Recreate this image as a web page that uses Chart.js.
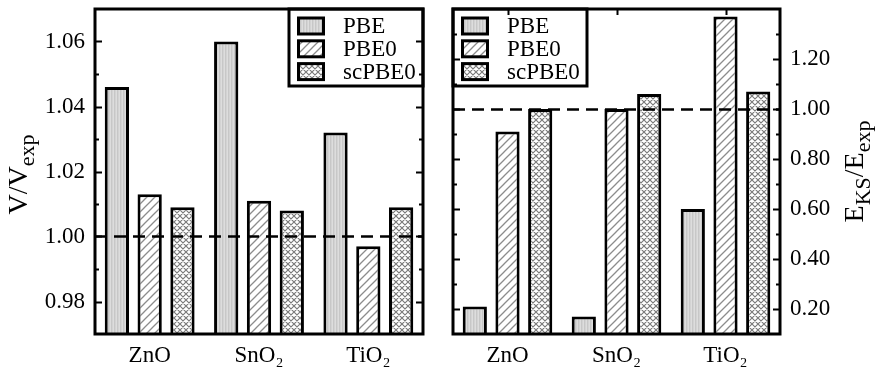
<!DOCTYPE html>
<html><head><meta charset="utf-8">
<script src="https://cdn.jsdelivr.net/npm/chart.js@4.4.1/dist/chart.umd.min.js"></script>
<style>
html,body{margin:0;padding:0;background:#fff;}
.wrap{position:absolute;top:0;height:367px;}
</style>
</head><body>
<div class="wrap" style="left:0;width:440px"><canvas id="c1" width="440" height="367"></canvas></div>
<div class="wrap" style="left:440px;width:438px"><canvas id="c2" width="438" height="367"></canvas></div>
<script>
// ---- data ----
const categories = ['ZnO', 'SnO\u2082', 'TiO\u2082'];
const seriesNames = ['PBE', 'PBE0', 'scPBE0'];
const volPBE = [1.046, 1.060, 1.032];
const volPBE0 = [1.013, 1.011, 0.997];
const volScPBE0 = [1.009, 1.008, 1.009];
const gapPBE = [0.21, 0.17, 0.60];
const gapPBE0 = [0.91, 1.00, 1.37];
const gapScPBE0 = [1.00, 1.06, 1.07];
const volTicks = [0.98, 1.00, 1.02, 1.04, 1.06];
const volMinorTicks = [0.99, 1.01, 1.03, 1.05];
const gapTicks = [0.20, 0.40, 0.60, 0.80, 1.00, 1.20];
const gapMinorTicks = [0.30, 0.50, 0.70, 0.90, 1.10, 1.30];
const referenceValue = 1.00;

const FONT = "'Liberation Serif', 'Times New Roman', serif";

function makePattern(kind) {
  const c = document.createElement('canvas');
  const g = c.getContext('2d');
  if (kind === 'pbe') {
    c.width = 3; c.height = 3;
    g.fillStyle = '#d3d3d3'; g.fillRect(0, 0, 3, 3);
    g.fillStyle = '#c7c7c7'; g.fillRect(0, 0, 1, 3);
    g.fillStyle = '#dddddd'; g.fillRect(2, 0, 1, 3);
  } else if (kind === 'hatch') {
    const s = 8; c.width = s; c.height = s;
    g.fillStyle = '#fff'; g.fillRect(0, 0, s, s);
    g.strokeStyle = '#8c8c8c'; g.lineWidth = 1.3;
    g.beginPath();
    g.moveTo(-1, s + 1); g.lineTo(s + 1, -1);
    g.moveTo(-1, 1); g.lineTo(1, -1);
    g.moveTo(s - 1, s + 1); g.lineTo(s + 1, s - 1);
    g.stroke();
  } else {
    const s = 6; c.width = s; c.height = s;
    g.fillStyle = '#fff'; g.fillRect(0, 0, s, s);
    g.strokeStyle = '#7a7a7a'; g.lineWidth = 1.15;
    g.beginPath();
    g.moveTo(-1, s + 1); g.lineTo(s + 1, -1);
    g.moveTo(-1, 1); g.lineTo(1, -1);
    g.moveTo(s - 1, s + 1); g.lineTo(s + 1, s - 1);
    g.moveTo(-1, -1); g.lineTo(s + 1, s + 1);
    g.moveTo(s - 1, -1); g.lineTo(s + 1, 1);
    g.moveTo(-1, s - 1); g.lineTo(1, s + 1);
    g.stroke();
  }
  return g.createPattern(c, 'repeat');
}
const fills = [makePattern('pbe'), makePattern('hatch'), makePattern('cross')];

function datasets(arrs) {
  return arrs.map((d, i) => ({
    label: seriesNames[i], data: d, backgroundColor: fills[i],
    borderColor: '#000', borderWidth: 3, borderSkipped: 'start'
  }));
}

function decorPlugin(cfg) {
  return {
    id: 'decor',
    afterDatasetsDraw(chart) {
      const ctx = chart.ctx, a = chart.chartArea, y = chart.scales.y, x = chart.scales.x;
      ctx.save();
      // dashed reference line
      ctx.strokeStyle = '#000'; ctx.lineWidth = 2.5; ctx.setLineDash([12, 7]);
      const yr = Math.round(y.getPixelForValue(referenceValue)) + 0.5;
      ctx.beginPath(); ctx.moveTo(a.left, yr); ctx.lineTo(a.right, yr); ctx.stroke();
      ctx.setLineDash([]);
      // legend
      const lw = 134, lh = 77;
      const lx = cfg.legendSide === 'right' ? a.right - lw : a.left;
      const ly = a.top;
      ctx.fillStyle = '#fff'; ctx.fillRect(lx, ly, lw, lh);
      ctx.lineWidth = 3; ctx.strokeStyle = '#000';
      ctx.strokeRect(lx, ly, lw, lh);
      ctx.font = '23px ' + FONT; ctx.textBaseline = 'middle'; ctx.textAlign = 'left';
      seriesNames.forEach((n, i) => {
        const cy = ly + 17 + i * 22.8;
        const sx = lx + 8, sw = 28, sh = 19;
        ctx.fillStyle = '#000'; ctx.fillRect(sx, cy - sh / 2, sw, sh);
        ctx.fillStyle = fills[i]; ctx.fillRect(sx + 3, cy - sh / 2 + 3, sw - 6, sh - 6);
        ctx.fillStyle = '#000'; ctx.fillText(n, lx + 54, cy + 1);
      });
      // frame
      ctx.lineWidth = 3; ctx.strokeStyle = '#000';
      ctx.strokeRect(a.left, a.top, a.right - a.left, a.bottom - a.top);
      // inward ticks
      ctx.lineWidth = 2;
      const tick = (v, len) => {
        const p = Math.round(y.getPixelForValue(v)) + 0.5;
        ctx.beginPath();
        ctx.moveTo(a.left, p); ctx.lineTo(a.left + len, p);
        ctx.moveTo(a.right, p); ctx.lineTo(a.right - len, p);
        ctx.stroke();
      };
      cfg.major.forEach(v => tick(v, 7));
      cfg.minor.forEach(v => tick(v, 4));
      if (cfg.topTicks) {
        categories.forEach((c, i) => {
          const px = Math.round(x.getPixelForValue(i)) + 0.5;
          ctx.beginPath(); ctx.moveTo(px, a.top); ctx.lineTo(px, a.top + 6); ctx.stroke();
        });
      }
      ctx.restore();
    },
    afterDraw(chart) {
      const ctx = chart.ctx, a = chart.chartArea;
      ctx.save();
      ctx.fillStyle = '#000';
      ctx.textBaseline = 'alphabetic'; ctx.textAlign = 'left';
      ctx.translate(cfg.titleX, (a.top + a.bottom) / 2 + cfg.titleDy);
      ctx.rotate(-Math.PI / 2);
      const parts = cfg.title;
      const fnt = p => (p.sub ? '22px ' : '28px ') + FONT;
      let total = 0;
      parts.forEach(p => { ctx.font = fnt(p); p.w = ctx.measureText(p.t).width; total += p.w; });
      let xx = -total / 2;
      parts.forEach(p => {
        ctx.font = fnt(p);
        ctx.fillText(p.t, xx, p.sub ? 7 : 0);
        xx += p.w;
      });
      ctx.restore();
    }
  };
}

function makeChart(id, arrs, yopts, cfg) {
  return new Chart(document.getElementById(id), {
    type: 'bar',
    data: { labels: categories, datasets: datasets(arrs) },
    options: {
      responsive: false, animation: false,
      layout: { padding: cfg.padding },
      plugins: { legend: { display: false }, tooltip: { enabled: false } },
      datasets: { bar: { categoryPercentage: 0.9, barPercentage: 0.74 } },
      scales: {
        x: {
          grid: { display: false }, border: { display: false },
          ticks: { color: '#000', font: { family: FONT, size: 23 }, padding: 0 },
          afterFit(s) { s.height = 33; s.paddingLeft = 0; s.paddingRight = 0; }
        },
        y: Object.assign({
          grid: { display: false }, border: { display: false },
          ticks: { color: '#000', font: { family: FONT, size: 23 }, padding: 2,
                   callback: v => Number(v).toFixed(2) },
          afterBuildTicks(ax) { ax.ticks = cfg.major.map(v => ({ value: v })); },
          afterFit(s) { s.width = cfg.yWidth; s.paddingTop = 0; s.paddingBottom = 0; }
        }, yopts)
      }
    },
    plugins: [decorPlugin(cfg)]
  });
}

makeChart('c1', [volPBE, volPBE0, volScPBE0], { min: 0.97, max: 1.07, position: 'left' }, {
  padding: { left: 0, right: 17, top: 9, bottom: 0 }, yWidth: 95,
  major: volTicks, minor: volMinorTicks, legendSide: 'right', topTicks: false,
  titleX: 27, titleDy: 3,
  title: [{ t: 'V/V' }, { t: 'exp', sub: true }]
});

makeChart('c2', [gapPBE, gapPBE0, gapScPBE0], { min: 0.10, max: 1.40, position: 'right' }, {
  padding: { left: 13, right: 0, top: 9, bottom: 0 }, yWidth: 98,
  major: gapTicks, minor: gapMinorTicks, legendSide: 'left', topTicks: true,
  titleX: 423, titleDy: 0,
  title: [{ t: 'E' }, { t: 'KS', sub: true }, { t: '/E' }, { t: 'exp', sub: true }]
});
</script>
</body></html>
